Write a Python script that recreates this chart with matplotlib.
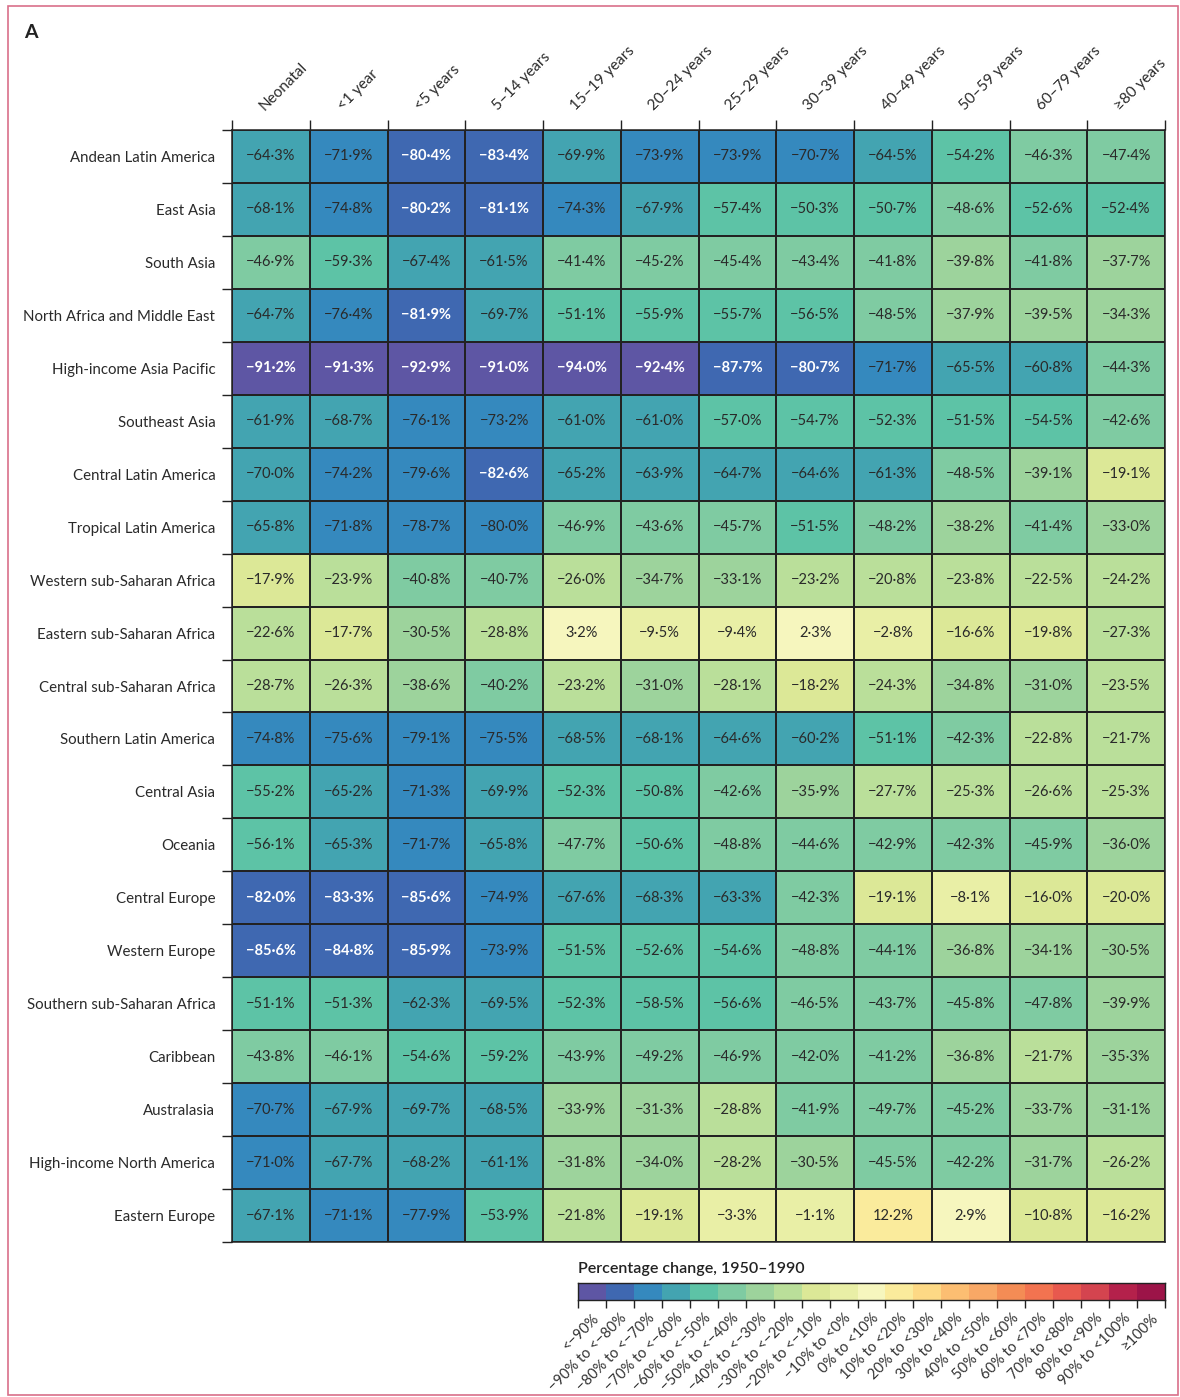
import numpy as np
import matplotlib
matplotlib.use("Agg")
import matplotlib.pyplot as plt
from matplotlib.colors import ListedColormap, BoundaryNorm
from matplotlib.patches import Rectangle

plt.rcParams['font.family'] = ['Lato', 'DejaVu Sans']

regions = ["Andean Latin America", "East Asia", "South Asia", "North Africa and Middle East",
           "High-income Asia Pacific", "Southeast Asia", "Central Latin America",
           "Tropical Latin America", "Western sub-Saharan Africa", "Eastern sub-Saharan Africa",
           "Central sub-Saharan Africa", "Southern Latin America", "Central Asia", "Oceania",
           "Central Europe", "Western Europe", "Southern sub-Saharan Africa", "Caribbean",
           "Australasia", "High-income North America", "Eastern Europe"]

age_groups = ["Neonatal", "<1 year", "<5 years", "5–14 years", "15–19 years", "20–24 years",
              "25–29 years", "30–39 years", "40–49 years", "50–59 years", "60–79 years", "≥80 years"]

andean = [-64.3, -71.9, -80.4, -83.4, -69.9, -73.9, -73.9, -70.7, -64.5, -54.2, -46.3, -47.4]
east_asia = [-68.1, -74.8, -80.2, -81.1, -74.3, -67.9, -57.4, -50.3, -50.7, -48.6, -52.6, -52.4]
south_asia = [-46.9, -59.3, -67.4, -61.5, -41.4, -45.2, -45.4, -43.4, -41.8, -39.8, -41.8, -37.7]
n_africa_me = [-64.7, -76.4, -81.9, -69.7, -51.1, -55.9, -55.7, -56.5, -48.5, -37.9, -39.5, -34.3]
hi_asia_pac = [-91.2, -91.3, -92.9, -91.0, -94.0, -92.4, -87.7, -80.7, -71.7, -65.5, -60.8, -44.3]
se_asia = [-61.9, -68.7, -76.1, -73.2, -61.0, -61.0, -57.0, -54.7, -52.3, -51.5, -54.5, -42.6]
central_latam = [-70.0, -74.2, -79.6, -82.6, -65.2, -63.9, -64.7, -64.6, -61.3, -48.5, -39.1, -19.1]
tropical_latam = [-65.8, -71.8, -78.7, -80.0, -46.9, -43.6, -45.7, -51.5, -48.2, -38.2, -41.4, -33.0]
w_ssa = [-17.9, -23.9, -40.8, -40.7, -26.0, -34.7, -33.1, -23.2, -20.8, -23.8, -22.5, -24.2]
e_ssa = [-22.6, -17.7, -30.5, -28.8, 3.2, -9.5, -9.4, 2.3, -2.8, -16.6, -19.8, -27.3]
c_ssa = [-28.7, -26.3, -38.6, -40.2, -23.2, -31.0, -28.1, -18.2, -24.3, -34.8, -31.0, -23.5]
s_latam = [-74.8, -75.6, -79.1, -75.5, -68.5, -68.1, -64.6, -60.2, -51.1, -42.3, -22.8, -21.7]
c_asia = [-55.2, -65.2, -71.3, -69.9, -52.3, -50.8, -42.6, -35.9, -27.7, -25.3, -26.6, -25.3]
oceania = [-56.1, -65.3, -71.7, -65.8, -47.7, -50.6, -48.8, -44.6, -42.9, -42.3, -45.9, -36.0]
c_europe = [-82.0, -83.3, -85.6, -74.9, -67.6, -68.3, -63.3, -42.3, -19.1, -8.1, -16.0, -20.0]
w_europe = [-85.6, -84.8, -85.9, -73.9, -51.5, -52.6, -54.6, -48.8, -44.1, -36.8, -34.1, -30.5]
s_ssa = [-51.1, -51.3, -62.3, -69.5, -52.3, -58.5, -56.6, -46.5, -43.7, -45.8, -47.8, -39.9]
caribbean = [-43.8, -46.1, -54.6, -59.2, -43.9, -49.2, -46.9, -42.0, -41.2, -36.8, -21.7, -35.3]
australasia = [-70.7, -67.9, -69.7, -68.5, -33.9, -31.3, -28.8, -41.9, -49.7, -45.2, -33.7, -31.1]
hi_n_america = [-71.0, -67.7, -68.2, -61.1, -31.8, -34.0, -28.2, -30.5, -45.5, -42.2, -31.7, -26.2]
e_europe = [-67.1, -71.1, -77.9, -53.9, -21.8, -19.1, -3.3, -1.1, 12.2, 2.9, -10.8, -16.2]

legend_labels = ["<−90%", "−90% to <−80%", "−80% to <−70%", "−70% to <−60%", "−60% to <−50%",
                 "−50% to <−40%", "−40% to <−30%", "−30% to <−20%", "−20% to <−10%",
                 "−10% to <0%", "0% to <10%", "10% to <20%", "20% to <30%", "30% to <40%",
                 "40% to <50%", "50% to <60%", "60% to <70%", "70% to <80%", "80% to <90%",
                 "90% to <100%", "≥100%"]

values = np.array([andean, east_asia, south_asia, n_africa_me, hi_asia_pac, se_asia, central_latam,
                   tropical_latam, w_ssa, e_ssa, c_ssa, s_latam, c_asia, oceania, c_europe,
                   w_europe, s_ssa, caribbean, australasia, hi_n_america, e_europe])

# 21 discrete bin colours
bin_colors = ["#5E56A4", "#3F68B1", "#3589BE", "#43A4B1", "#5DC3A6", "#7FCBA2", "#9DD39C",
              "#BADF9A", "#DCE897", "#E9EFA6", "#F6F6BE", "#FAEB9C", "#FDD985", "#FCBE72",
              "#F8A866", "#F48C55", "#F27350", "#E8594E", "#D4444F", "#B4214B", "#9C1448"]
cmap = ListedColormap(bin_colors)
bounds = np.concatenate(([-1000], np.arange(-90, 101, 10), [1000]))
norm = BoundaryNorm(bounds, cmap.N)

W, H = 1180, 1397
fig = plt.figure(figsize=(W / 100, H / 100), dpi=100)

def fx(px):
    return px / W

def fy(py):
    return 1 - py / H

ax = fig.add_axes([fx(232), fy(1242), fx(1165) - fx(232), fy(130) - fy(1242)])
nr, nc = values.shape
ax.pcolormesh(np.arange(nc + 1), np.arange(nr + 1), values, cmap=cmap, norm=norm,
              edgecolors='#222222', linewidth=1.1)
ax.set_xlim(0, nc)
ax.set_ylim(nr, 0)
for s in ax.spines.values():
    s.set_color('#222222')
    s.set_linewidth(1.1)

def fmt(v):
    s = f"{abs(v):.1f}".replace('.', '·') + '%'
    return ('−' + s) if v < 0 else s

for i in range(nr):
    for j in range(nc):
        v = values[i, j]
        if v < -80:
            ax.text(j + 0.5, i + 0.5, fmt(v), ha='center', va='center', fontsize=10.5,
                    color='white', fontweight='bold')
        else:
            ax.text(j + 0.5, i + 0.5, fmt(v), ha='center', va='center', fontsize=10.5,
                    color='#2a2a2a')

# ticks at boundaries
ax.set_xticks(np.arange(nc + 1))
ax.set_yticks(np.arange(nr + 1))
ax.tick_params(axis='x', which='major', top=True, bottom=False, labeltop=False,
               labelbottom=False, length=7.5, width=1.0, color='#222222', direction='out')
ax.tick_params(axis='y', which='major', left=True, right=False, labelleft=False,
               length=7.5, width=1.0, color='#222222', direction='out')
ax.set_yticks(np.arange(nr) + 0.5, minor=True)
ax.set_yticklabels(regions, minor=True, fontsize=10.8, color='#2a2a2a')
ax.tick_params(axis='y', which='minor', length=0, pad=12)
ax.tick_params(axis='x', which='minor', length=0)

for j, lab in enumerate(age_groups):
    ax.text(j + 0.45, -0.32, lab, rotation=45, ha='left', va='bottom',
            rotation_mode='anchor', fontsize=11, color='#2a2a2a', clip_on=False)

# legend colour bar
cax = fig.add_axes([fx(578), fy(1300), fx(1165) - fx(578), fy(1283) - fy(1300)])
cax.pcolormesh(np.arange(22), [0, 1], np.arange(21).reshape(1, -1), cmap=cmap,
               norm=BoundaryNorm(np.arange(22) - 0.5, 21))
cax.set_xlim(0, 21)
cax.set_ylim(0, 1)
cax.set_yticks([])
cax.set_xticks(np.arange(22))
cax.set_xticklabels([])
cax.tick_params(axis='x', which='major', length=6, width=1.0, color='#222222')
cax.set_xticks(np.arange(21) + 0.5, minor=True)
cax.set_xticklabels(legend_labels, minor=True, rotation=45, ha='right',
                    rotation_mode='anchor', fontsize=10.5, color='#333333')
cax.tick_params(axis='x', which='minor', length=0, pad=8)
for s in cax.spines.values():
    s.set_color('#222222')
    s.set_linewidth(1.0)

fig.text(fx(578), fy(1273), "Percentage change, 1950–1990", fontsize=11.5,
         fontweight='semibold', color='#222222', ha='left', va='baseline')

fig.text(fx(24), fy(38), "A", fontsize=14, fontweight='bold', color='#222222',
         ha='left', va='baseline')

fig.patches.append(Rectangle((fx(8), fy(1395)), fx(1178) - fx(8), fy(6) - fy(1395),
                             transform=fig.transFigure, fill=False,
                             edgecolor='#D9708A', linewidth=1.2))

fig.savefig("out.png", dpi=100)
